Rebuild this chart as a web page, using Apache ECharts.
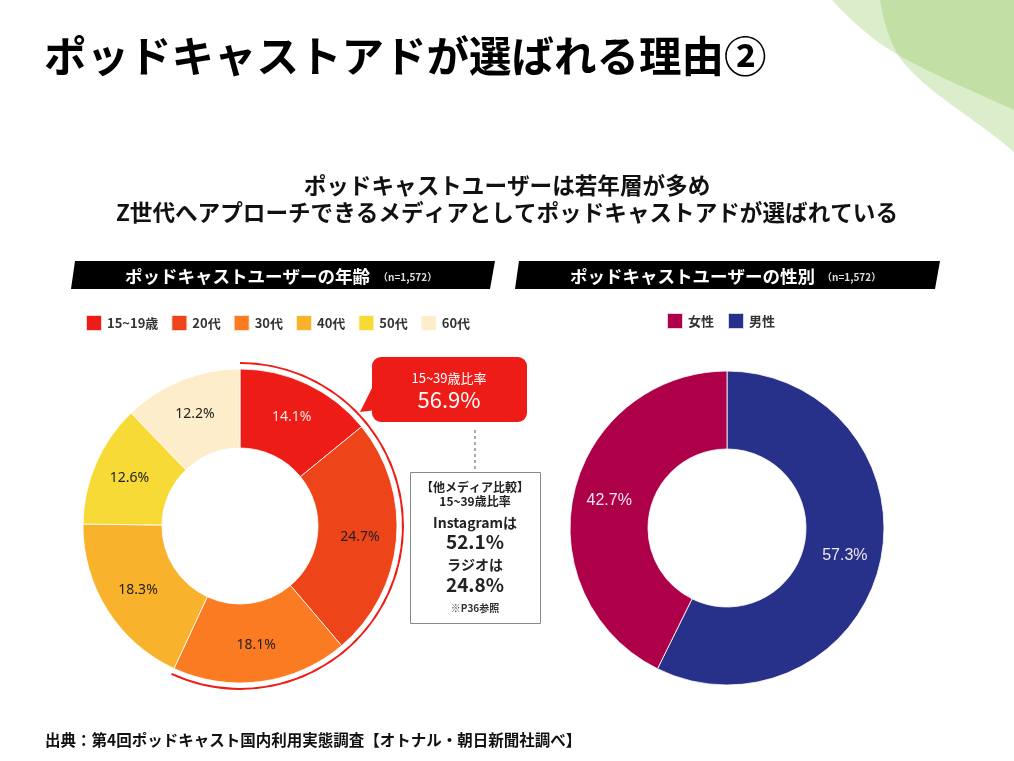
<!DOCTYPE html>
<html>
<head>
<meta charset="utf-8">
<script src="https://cdn.jsdelivr.net/npm/echarts@6/dist/echarts.min.js"></script>
<style>
html,body{margin:0;padding:0;background:#fff;}
#chart{width:1014px;height:761px;}
</style>
</head>
<body>
<div id="chart"></div>
<script>
// ---- data ----
var ageCategories = ['15~19歳', '20代', '30代', '40代', '50代', '60代'];
var ageValues = [14.1, 24.7, 18.1, 18.3, 12.6, 12.2];
var ageColors = ['#EE1C16', '#EE4419', '#FB7B22', '#F9B22B', '#F7DA36', '#FDEDCA'];
var genderCategories = ['男性', '女性'];
var genderValues = [57.3, 42.7];
var genderColors = ['#27318A', '#AE0049'];
var genderLegendOrder = ['女性', '男性'];
var youngCount = 3; // 15~19, 20代, 30代 -> 15~39歳
var otherMediaInstagram = '52.1%';
var otherMediaRadio = '24.8%';

var FONT = '"Noto Sans CJK JP", "Noto Sans", sans-serif';

var youngShare = 0;
for (var i = 0; i < youngCount; i++) youngShare += ageValues[i];
var ageTotal = ageValues.reduce(function (a, b) { return a + b; }, 0);

var ageData = ageCategories.map(function (c, i) {
  return {
    name: c, value: ageValues[i],
    itemStyle: { color: ageColors[i] },
    label: { color: i === 0 ? '#FDE3DD' : '#222' }
  };
});
var genderData = genderCategories.map(function (c, i) {
  return { name: c, value: genderValues[i], itemStyle: { color: genderColors[i] } };
});

// decorative curve helper (background ornament only)
function bez(p0, p1, p2, p3, n) {
  var out = [];
  for (var k = 0; k <= n; k++) {
    var t = k / n, u = 1 - t;
    out.push([
      u*u*u*p0[0] + 3*u*u*t*p1[0] + 3*u*t*t*p2[0] + t*t*t*p3[0],
      u*u*u*p0[1] + 3*u*u*t*p1[1] + 3*u*t*t*p2[1] + t*t*t*p3[1]
    ]);
  }
  return out;
}
var decoA = bez([832,0],[852,22],[875,42],[900,56],20).concat(bez([900,56],[935,76],[980,94],[1014,110],20)).concat([[1014,0]]);
var decoB = bez([880,0],[884,24],[890,42],[900,58],20).concat(bez([900,58],[925,92],[975,118],[1014,152],20)).concat([[1014,0]]);

var chart = echarts.init(document.getElementById('chart'), null, { renderer: 'canvas' });

function txt(x, y, text, size, weight, color, align, family) {
  return { type: 'text', z: 10, x: x, y: y,
    style: { text: text, fontFamily: family || FONT, fontSize: size, fontWeight: weight || 'normal',
      fill: color, align: align || 'left', verticalAlign: 'middle' } };
}

var option = {
  backgroundColor: '#ffffff',
  animation: false,
  legend: [
    {
      data: ageCategories,
      left: 80, top: 309,
      itemWidth: 16, itemHeight: 16, itemGap: 12,
      icon: 'rect',
      textStyle: { fontFamily: FONT, fontSize: 13, fontWeight: 'bold', color: '#333' },
      selectedMode: false
    },
    {
      data: genderLegendOrder,
      left: 661, top: 307,
      itemWidth: 16, itemHeight: 16, itemGap: 13,
      icon: 'rect',
      textStyle: { fontFamily: FONT, fontSize: 13, fontWeight: 'bold', color: '#333' },
      selectedMode: false
    }
  ],
  series: [
    {
      name: 'age', type: 'pie',
      center: [240, 526], radius: [78, 157],
      startAngle: 90, clockwise: true,
      itemStyle: { borderColor: 'rgba(255,255,255,0.8)', borderWidth: 1 },
      label: {
        show: true, position: 'inside',
        fontFamily: '"Noto Sans", sans-serif', fontSize: 14,
        formatter: function (p) { return p.value.toFixed(1) + '%'; }
      },
      labelLine: { show: false },
      emphasis: { disabled: true },
      data: ageData
    },
    {
      name: 'youngArc', type: 'pie',
      center: [240, 526], radius: [162, 164],
      startAngle: 90, clockwise: true, silent: true,
      label: { show: false }, labelLine: { show: false },
      emphasis: { disabled: true },
      data: [
        { name: '15~39歳', value: youngShare, itemStyle: { color: '#EE1C16' } },
        { name: 'rest', value: ageTotal - youngShare, itemStyle: { color: 'rgba(0,0,0,0)' } }
      ]
    },
    {
      name: 'gender', type: 'pie',
      center: [727, 528], radius: [79, 157],
      startAngle: 90, clockwise: true,
      itemStyle: { borderColor: 'rgba(255,255,255,0.8)', borderWidth: 1 },
      label: {
        show: true, position: 'inside',
        fontFamily: '"Liberation Sans", Arial, sans-serif', fontSize: 16,
        color: '#F0E6EE',
        formatter: function (p) { return p.value.toFixed(1) + '%'; }
      },
      labelLine: { show: false },
      emphasis: { disabled: true },
      data: genderData
    }
  ],
  graphic: [
    { type: 'polygon', silent: true, z: 0, shape: { points: decoA }, style: { fill: 'rgba(130,191,69,0.28)' } },
    { type: 'polygon', silent: true, z: 0, shape: { points: decoB }, style: { fill: 'rgba(130,191,69,0.28)' } },
    // main title
    txt(44, 56, 'ポッドキャストアドが選ばれる理由②', 42.5, 'bold', '#000'),
    // subtitle
    txt(507, 185, 'ポッドキャストユーザーは若年層が多め', 22.6, 'bold', '#111', 'center'),
    txt(507, 212, 'Z世代へアプローチできるメディアとしてポッドキャストアドが選ばれている', 22.6, 'bold', '#111', 'center'),
    // banners
    { type: 'polygon', z: 5, shape: { points: [[75, 261], [495, 261], [490, 289], [71, 289]] }, style: { fill: '#000' } },
    { type: 'polygon', z: 5, shape: { points: [[519, 261], [940, 261], [935, 289], [515, 289]] }, style: { fill: '#000' } },
    txt(125, 276, 'ポッドキャストユーザーの年齢', 17.5, 'bold', '#fff'),
    txt(378, 277, '（n=1,572）', 10, 'bold', '#ddd'),
    txt(570, 276, 'ポッドキャストユーザーの性別', 17.5, 'bold', '#fff'),
    txt(822, 277, '（n=1,572）', 10, 'bold', '#ddd'),
    // callout
    { type: 'rect', z: 8, shape: { x: 372, y: 357, width: 155, height: 65, r: 9 }, style: { fill: '#EE1C16' } },
    { type: 'polygon', z: 8, shape: { points: [[374, 384], [360, 412], [376, 410]] }, style: { fill: '#EE1C16' } },
    txt(449, 378, '15~39歳比率', 13, 'normal', '#fff', 'center'),
    txt(449, 400, youngShare.toFixed(1) + '%', 22, 'normal', '#fff', 'center'),
    { type: 'line', z: 8, shape: { x1: 475, y1: 430, x2: 475, y2: 471 },
      style: { stroke: '#555', lineWidth: 1, lineDash: [3, 3] } },
    { type: 'rect', z: 8, shape: { x: 410.5, y: 472.5, width: 130, height: 151 },
      style: { fill: '#fff', stroke: '#888', lineWidth: 1 } },
    txt(475, 487, '【他メディア比較】', 12, 'bold', '#222', 'center'),
    txt(475, 501, '15~39歳比率', 12, 'bold', '#222', 'center'),
    txt(475, 523, 'Instagramは', 14, 'bold', '#222', 'center'),
    txt(475, 542, otherMediaInstagram, 19, 'bold', '#222', 'center'),
    txt(475, 565, 'ラジオは', 14, 'bold', '#222', 'center'),
    txt(475, 585, otherMediaRadio, 19, 'bold', '#222', 'center'),
    txt(475, 608, '※P36参照', 10, 'bold', '#333', 'center'),
    // source
    txt(45, 740, '出典：第4回ポッドキャスト国内利用実態調査【オトナル・朝日新聞社調べ】', 15.5, 'bold', '#111')
  ]
};
chart.setOption(option);
</script>
</body>
</html>
